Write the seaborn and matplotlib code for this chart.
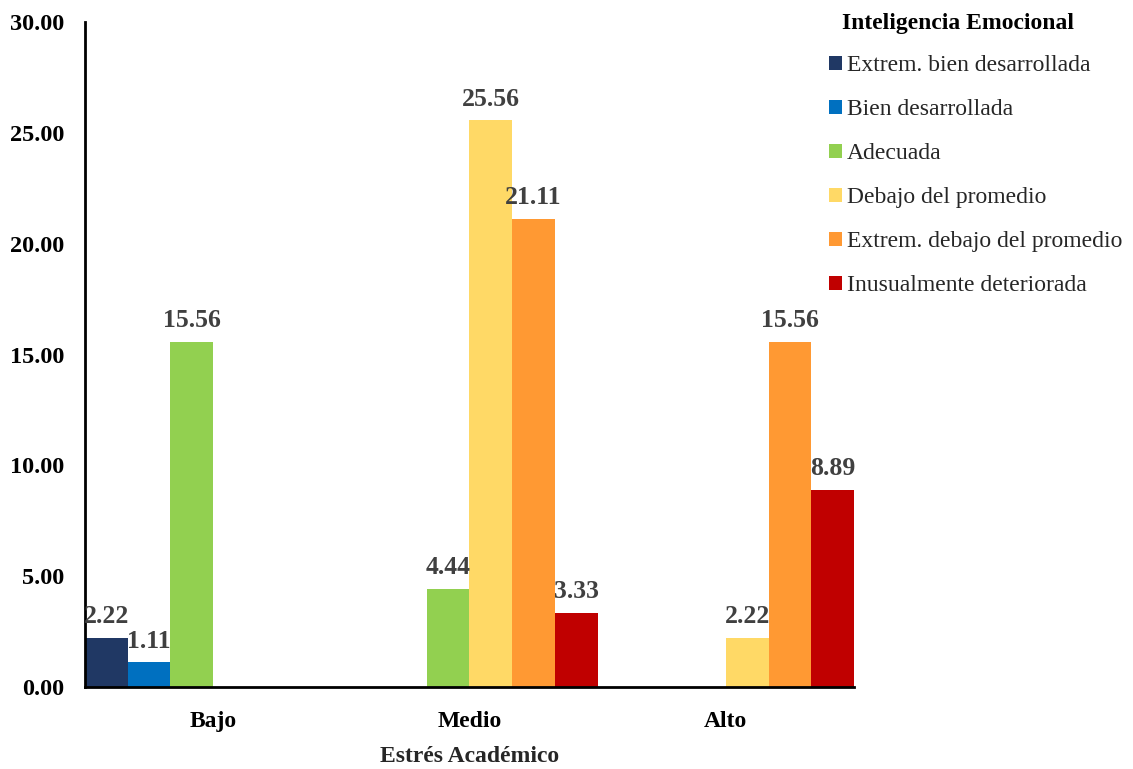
import matplotlib
matplotlib.use("Agg")
import matplotlib.pyplot as plt
import seaborn as sns
import pandas as pd

# Data
niveles_estres = ["Bajo", "Medio", "Alto"]
categorias_ie = [
    "Extrem. bien desarrollada",
    "Bien desarrollada",
    "Adecuada",
    "Debajo del promedio",
    "Extrem. debajo del promedio",
    "Inusualmente deteriorada",
]
valores_bajo = [2.22, 1.11, 15.56, 0.00, 0.00, 0.00]
valores_medio = [0.00, 0.00, 4.44, 25.56, 21.11, 3.33]
valores_alto = [0.00, 0.00, 0.00, 2.22, 15.56, 8.89]
colores = ["#203864", "#0070C0", "#92D050", "#FFD966", "#FF9933", "#C00000"]

rows = []
for nivel, vals in zip(niveles_estres, [valores_bajo, valores_medio, valores_alto]):
    for cat, v in zip(categorias_ie, vals):
        rows.append({"Estrés Académico": nivel, "Inteligencia Emocional": cat, "valor": v})
df = pd.DataFrame(rows)

sns.set_theme(style="white")
plt.rcParams["font.family"] = ["Liberation Serif", "DejaVu Serif"]

fig = plt.figure(figsize=(11.33, 7.69), dpi=100)
ax = fig.add_axes([0.075, 0.1066, 0.6787, 0.8648])

sns.barplot(
    data=df, x="Estrés Académico", y="valor", hue="Inteligencia Emocional",
    order=niveles_estres, hue_order=categorias_ie, palette=colores,
    width=1.0, saturation=1, errorbar=None, ax=ax, legend=True, linewidth=0,
)

for container in ax.containers:
    labels = [f"{b.get_height():.2f}" if b.get_height() > 0 else "" for b in container]
    ax.bar_label(container, labels=labels, padding=7, fontsize=18.5,
                 fontweight="bold", color="#404040")

ax.set_xlim(-0.5, 2.5)
ax.set_ylim(0, 30)
ax.set_yticks([0, 5, 10, 15, 20, 25, 30])
ax.set_yticklabels([f"{t:.2f}" for t in [0, 5, 10, 15, 20, 25, 30]])
ax.tick_params(axis="y", length=0, labelsize=17.5, pad=15)
ax.tick_params(axis="x", length=0, labelsize=17, pad=17.5)
for lab in ax.get_xticklabels() + ax.get_yticklabels():
    lab.set_fontweight("bold")
    lab.set_color("black")

ax.set_ylabel("")
ax.set_xlabel("Estrés Académico", fontsize=17, fontweight="bold", labelpad=10)

for side in ["top", "right"]:
    ax.spines[side].set_visible(False)
for side in ["left", "bottom"]:
    ax.spines[side].set_visible(True)
    ax.spines[side].set_color("black")
    ax.spines[side].set_linewidth(2)

# Legend entries, with the hue name as a heading above them
leg = ax.legend(
    loc="upper left",
    bbox_to_anchor=(0.7128, 0.9555), bbox_transform=fig.transFigure,
    frameon=False, fontsize=17,
    handlelength=0.55, handleheight=0.55, handletextpad=0.2, labelspacing=0.97,
)
fig.text(0.743, 0.970, "Inteligencia Emocional", fontsize=17, fontweight="bold",
         ha="left", va="center", color="black")

fig.savefig("out.png", dpi=100, facecolor="white")
